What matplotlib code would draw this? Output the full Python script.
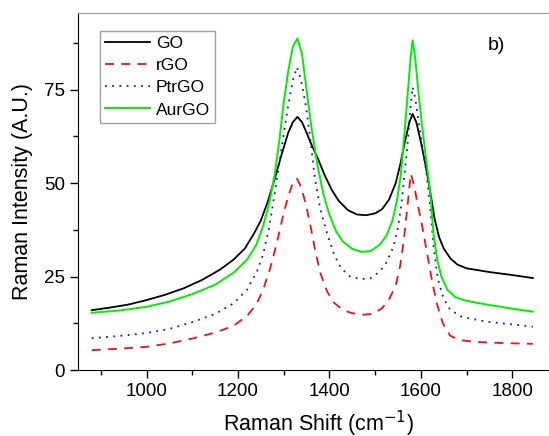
import matplotlib
matplotlib.use("Agg")
import matplotlib.pyplot as plt
from matplotlib.ticker import MultipleLocator

plt.rcParams['font.family'] = ['Liberation Sans', 'DejaVu Sans']

go_x = [880, 920, 960, 1000, 1040, 1080, 1120, 1160, 1190, 1215, 1235, 1250, 1265, 1280,
        1295, 1310, 1320, 1330, 1340, 1350, 1360, 1375, 1390, 1405, 1420, 1440, 1460, 1480,
        1500, 1515, 1530, 1545, 1555, 1565, 1575, 1582, 1590, 1600, 1610, 1620, 1630, 1640,
        1650, 1665, 1680, 1700, 1750, 1800, 1845]
go_y = [16.0, 16.7, 17.5, 18.7, 20.1, 21.8, 24.0, 26.8, 29.5, 32.5, 36.5, 40.0, 45.0, 51.0,
        57.5, 63.5, 66.3, 67.7, 66.3, 63.5, 60.5, 56.5, 52.0, 48.2, 45.3, 42.8, 41.6, 41.4,
        41.9, 43.0, 45.5, 50.0, 55.0, 61.0, 66.3, 68.5, 66.3, 61.0, 55.0, 48.0, 40.5, 35.5,
        32.5, 29.8, 28.2, 27.2, 26.2, 25.4, 24.6]

rgo_x = [880, 940, 1000, 1050, 1100, 1150, 1190, 1220, 1240, 1255, 1270, 1285, 1300, 1310,
         1320, 1329, 1338, 1348, 1358, 1368, 1380, 1395, 1410, 1430, 1450, 1475, 1495, 1515,
         1530, 1545, 1555, 1563, 1570, 1578, 1585, 1592, 1603, 1614, 1625, 1635, 1648, 1664,
         1685, 1720, 1780, 1845]
rgo_y = [5.3, 5.7, 6.2, 7.1, 8.4, 10.0, 11.8, 14.5, 17.5, 21.5, 27.0, 34.0, 42.0, 46.5,
         50.0, 51.2, 49.0, 44.5, 39.0, 32.5, 26.0, 21.0, 18.0, 16.0, 15.2, 14.8, 15.0, 16.5,
         18.8, 22.5, 28.0, 35.0, 43.0, 52.5, 49.5, 45.0, 38.5, 31.0, 23.5, 17.8, 12.5, 9.2,
         8.0, 7.5, 7.2, 7.0]

ptr_x = [880, 940, 1000, 1050, 1100, 1150, 1190, 1220, 1242, 1255, 1268, 1280, 1290, 1300,
         1310, 1320, 1329, 1338, 1348, 1358, 1368, 1380, 1395, 1410, 1425, 1445, 1470, 1490,
         1510, 1525, 1540, 1550, 1558, 1565, 1572, 1578, 1582, 1588, 1595, 1603, 1612, 1620,
         1628, 1637, 1650, 1665, 1690, 1745, 1800, 1845]
ptr_y = [8.5, 9.1, 9.9, 11.0, 12.8, 15.0, 17.8, 21.5, 26.5, 31.0, 38.0, 47.0, 55.0, 63.0,
         71.0, 77.5, 81.0, 77.5, 71.0, 62.0, 51.5, 43.0, 36.5, 31.0, 27.3, 25.0, 24.3, 24.6,
         26.3, 28.8, 33.0, 38.0, 45.0, 53.0, 62.0, 71.0, 75.7, 72.5, 66.5, 60.0, 53.0, 44.0,
         33.0, 24.5, 19.0, 16.0, 14.2, 12.9, 12.2, 11.6]

aur_x = [880, 940, 1000, 1050, 1100, 1150, 1190, 1220, 1240, 1255, 1268, 1280, 1290, 1300,
         1310, 1320, 1330, 1340, 1350, 1360, 1373, 1387, 1400, 1415, 1430, 1450, 1470, 1490,
         1510, 1525, 1538, 1548, 1556, 1564, 1572, 1578, 1582, 1588, 1595, 1603, 1612, 1621,
         1628, 1636, 1645, 1658, 1675, 1700, 1730, 1800, 1845]
aur_y = [15.3, 15.9, 16.9, 18.3, 20.3, 22.8, 26.0, 29.5, 33.5, 38.5, 44.5, 52.0, 61.0, 71.5,
         80.0, 86.5, 88.7, 84.5, 75.0, 65.5, 55.3, 47.0, 41.5, 37.0, 34.3, 32.4, 31.6, 31.8,
         33.5, 36.0, 40.0, 45.5, 52.0, 63.0, 75.0, 84.0, 88.2, 83.0, 74.0, 65.0, 56.0, 47.0,
         36.0, 29.5, 25.0, 21.5, 19.5, 18.5, 17.8, 16.4, 15.6]

labels = ["GO", "rGO", "PtrGO", "AurGO"]
xticks = [1000, 1200, 1400, 1600, 1800]
yticks = [0, 25, 50, 75]

fig = plt.figure(figsize=(5.49, 4.36), dpi=100)
W, H = 549, 436
ax = fig.add_axes([78 / W, (436 - 370) / H, 480 / W, 357 / H])

ax.plot(go_x, go_y, color='black', lw=1.3, label=labels[0])
ax.plot(rgo_x, rgo_y, color='#ee1111', lw=1.3, linestyle=(0, (5, 4)), label=labels[1])
ax.plot(ptr_x, ptr_y, color='#1111dd', lw=1.3, linestyle=(0, (1, 3)), label=labels[2])
ax.plot(aur_x, aur_y, color='#00ee00', lw=1.4, label=labels[3])

ax.set_xlim(850, 1900)
ax.set_ylim(0, 95.5)
ax.set_xticks(xticks)
ax.set_yticks(yticks)
ax.xaxis.set_minor_locator(MultipleLocator(100))
ax.yaxis.set_minor_locator(MultipleLocator(12.5))
ax.tick_params(which='major', direction='out', length=6, width=1, labelsize=13.5, top=False, right=False)
ax.tick_params(which='minor', direction='out', length=3.5, width=1, top=False, right=False)
ax.spines['top'].set_color('#999999')
ax.spines['right'].set_color('#999999')

ax.set_xlabel("Raman Shift (cm$^{-1}$)", fontsize=15.5, labelpad=6)
ax.set_ylabel("Raman Intensity (A.U.)", fontsize=15.5, labelpad=8)

leg = ax.legend(loc='upper left', bbox_to_anchor=(0.046, 0.95), fontsize=12.5,
                handlelength=2.6, fancybox=False, frameon=True, edgecolor='#888888',
                borderpad=0.3, labelspacing=0.4, handletextpad=0.3, borderaxespad=0)
leg.get_frame().set_linewidth(1.0)

ax.text(1765, 86.9, "b)", fontsize=14, ha='center', va='center')

fig.savefig("out.png", dpi=100)
